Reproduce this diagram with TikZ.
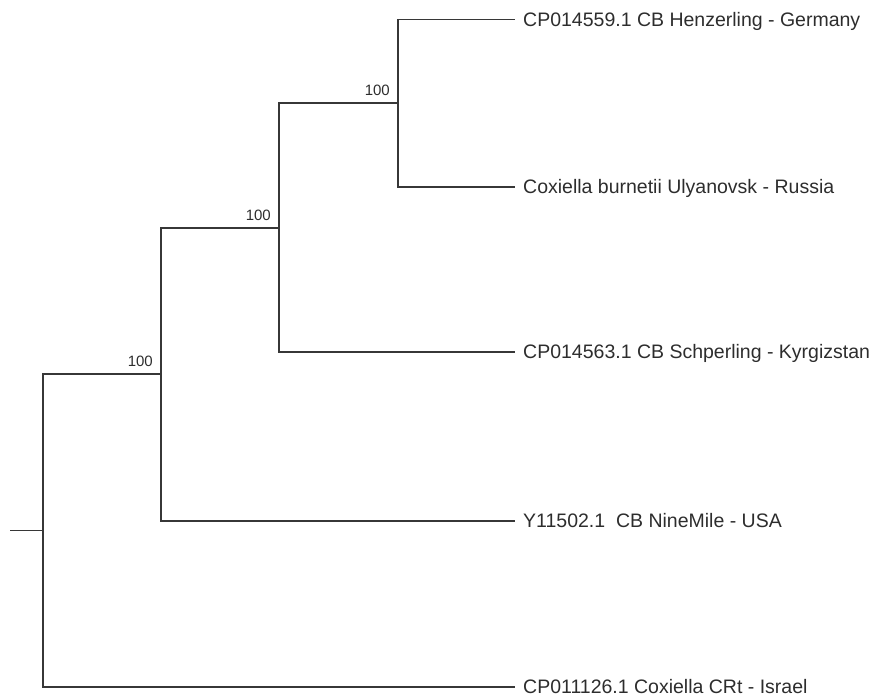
\documentclass[tikz,border=0pt]{standalone}
\usepackage{fontspec}
\setmainfont{Liberation Sans}
\definecolor{linec}{RGB}{55,55,55}
\definecolor{textc}{RGB}{45,45,45}
\begin{document}
\begin{tikzpicture}[x=1pt,y=-1pt,
  branch/.style={draw=linec,line width=1.1pt},
  leaf/.style={anchor=west,inner xsep=8pt,inner ysep=0pt,text height=13.5pt,text depth=0pt,
    font=\fontsize{19.5}{23}\selectfont,text=textc},
  boot/.style={anchor=base east,inner sep=0pt,font=\fontsize{15}{18}\selectfont,text=textc}]
\useasboundingbox (0,0) rectangle (872,697);
% internal nodes
\coordinate (r0) at (10,530.5);
\coordinate (A) at (43,530.5);
\coordinate (B) at (161,374);
\coordinate (C) at (279,228);
\coordinate (D) at (398,103);
% leaves
\node[leaf] (ger) at (515,19.5) {CP014559.1 CB Henzerling - Germany};
\node[leaf] (rus) at (515,187) {Coxiella burnetii Ulyanovsk - Russia};
\node[leaf] (kyr) at (515,352) {CP014563.1 CB Schperling - Kyrgizstan};
\node[leaf] (usa) at (515,521) {Y11502.1\ \ CB NineMile - USA};
\node[leaf] (isr) at (515,687) {CP011126.1 Coxiella CRt - Israel};
% branches
\draw[branch] (r0) -- (A);
\draw[branch] (A) |- (B);
\draw[branch] (A) |- (isr.west);
\draw[branch] (B) |- (C);
\draw[branch] (B) |- (usa.west);
\draw[branch] (C) |- (D);
\draw[branch] (C) |- (kyr.west);
\draw[branch] (D) |- (ger.west);
\draw[branch] (D) |- (rus.west);
% bootstrap labels
\node[boot] (bB) at ([xshift=-8pt,yshift=8pt]B) {100};
\node[boot] (bC) at ([xshift=-8pt,yshift=8pt]C) {100};
\node[boot] (bD) at ([xshift=-8pt,yshift=8pt]D) {100};
\end{tikzpicture}
\end{document}
